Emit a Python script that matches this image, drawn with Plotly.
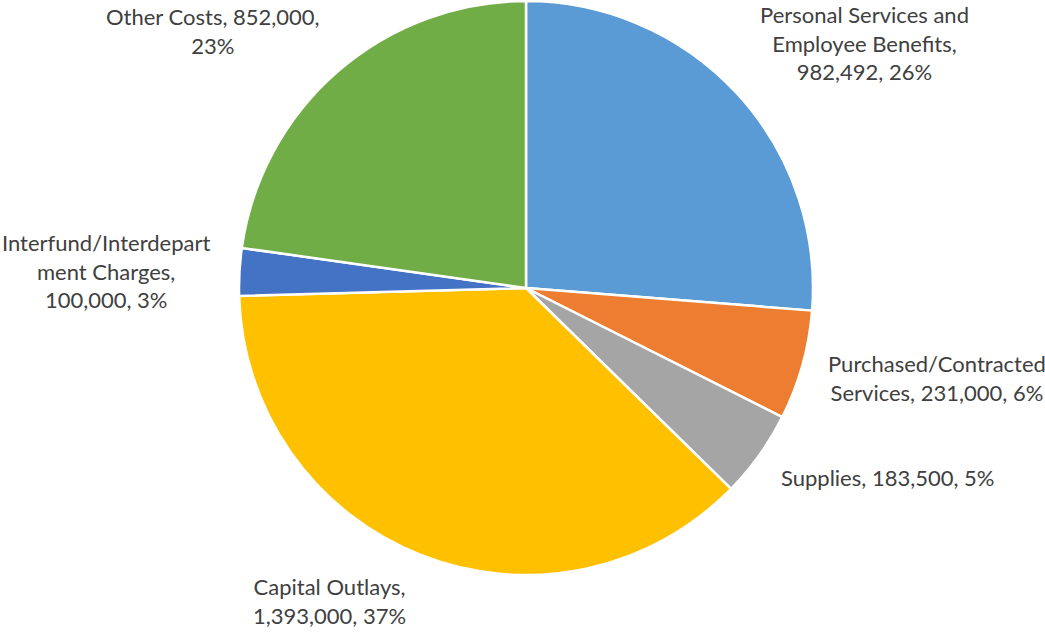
import plotly.graph_objects as go

categories = ["Personal Services and Employee Benefits", "Purchased/Contracted Services",
              "Supplies", "Capital Outlays", "Interfund/Interdepartment Charges", "Other Costs"]
values = [982492, 231000, 183500, 1393000, 100000, 852000]
label_texts = [
    "Personal Services and<br>Employee Benefits,<br>982,492, 26%",
    "Purchased/Contracted<br>Services, 231,000, 6%",
    "Supplies, 183,500, 5%",
    "Capital Outlays,<br>1,393,000, 37%",
    "Interfund/Interdepart<br>ment Charges,<br>100,000, 3%",
    "Other Costs, 852,000,<br>23%",
]
colors = ["#5B9BD5", "#ED7D31", "#A5A5A5", "#FFC000", "#4472C4", "#70AD47"]

W, H = 1045, 634
cx, cy, r = 526, 288, 287

fig = go.Figure(go.Pie(
    labels=categories, values=values, sort=False, direction="clockwise", rotation=0,
    marker=dict(colors=colors, line=dict(color="white", width=2.5)),
    textinfo="none", hoverinfo="label+value+percent", showlegend=False,
    domain=dict(x=[(cx - r) / W, (cx + r) / W], y=[max(0, (H - cy - r) / H), min(1, (H - cy + r) / H)]),
))

# label centre positions in pixels
label_pos = [(864, 43), (937, 378), (887, 477), (329, 601), (106, 271), (213, 31)]
for t, (px, py) in zip(label_texts, label_pos):
    fig.add_annotation(x=px / W, y=1 - py / H, xref="paper", yref="paper", text=t,
                       showarrow=False, align="center", xanchor="center", yanchor="middle",
                       font=dict(family="Lato", size=22, color="#404040"))

fig.update_layout(width=W, height=H, margin=dict(l=0, r=0, t=0, b=0),
                  paper_bgcolor="white", plot_bgcolor="white")
fig.write_html("out.html", config={"displayModeBar": False},
               post_script="document.body.style.margin='0';")
